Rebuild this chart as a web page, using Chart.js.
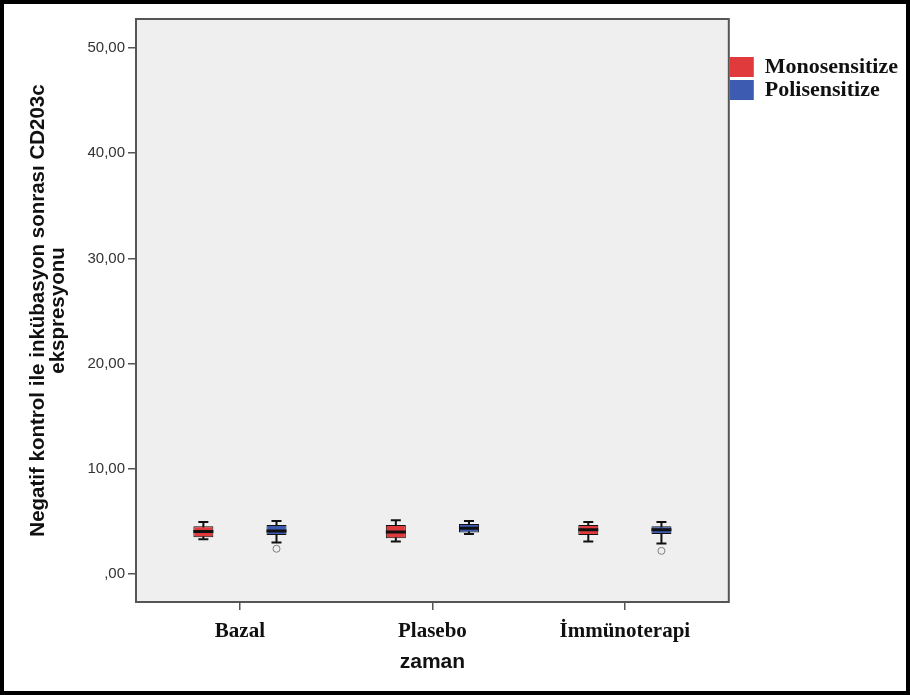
<!DOCTYPE html>
<html>
<head>
<meta charset="utf-8">
<script src="https://cdn.jsdelivr.net/npm/chart.js@4.4.1/dist/chart.umd.min.js"></script>
<style>
  html, body { margin: 0; padding: 0; background: #fff; }
  #wrap { position: relative; width: 910px; height: 695px; }
  canvas { position: absolute; left: 0; top: 0; }
  #edge { position: absolute; left: 0; top: 0; width: 910px; height: 695px; box-sizing: border-box; border: 4px solid #000; pointer-events: none; }
</style>
</head>
<body>
<div id="wrap">
  <canvas id="chart" width="910" height="695"></canvas>
  <div id="edge"></div>
</div>
<script>
// Groups on the x axis and the two patient series
const categories = ['Bazal', 'Plasebo', 'İmmünoterapi'];
const seriesNames = ['Monosensitize', 'Polisensitize'];

// Five-number summaries per group (CD203c expression)
const monoMin    = [3.3, 3.1, 3.1];
const monoQ1     = [3.5, 3.4, 3.7];
const monoMedian = [4.05, 4.0, 4.2];
const monoQ3     = [4.55, 4.65, 4.65];
const monoMax    = [4.95, 5.1, 4.95];
const monoOutliers = [[], [], []];

const poliMin    = [3.0, 3.8, 2.9];
const poliQ1     = [3.7, 3.95, 3.8];
const poliMedian = [4.1, 4.35, 4.2];
const poliQ3     = [4.65, 4.75, 4.55];
const poliMax    = [5.05, 5.05, 4.95];
const poliOutliers = [[2.4], [], [2.2]];

// Axis ticks and titles
const yTickValues = [0, 10, 20, 30, 40, 50];
const yTickLabels = [',00', '10,00', '20,00', '30,00', '40,00', '50,00'];
const xAxisTitle = 'zaman';
const yAxisTitle = ['Negatif kontrol ile inkübasyon sonrası CD203c', 'ekspresyonu'];

const RED = '#e03a3c';
const BLUE = '#3d5bb0';
const INK = '#111111';
const SHIFT = 0.19; // half distance between the two boxes of a group, in category units

function boxSeries(name, color, off, mins, q1, med, q3, maxs, outl, order) {
  const xs = categories.map((_, i) => i + off);
  const caps = [];
  xs.forEach((x, i) => { caps.push({ x, y: mins[i] }); caps.push({ x, y: maxs[i] }); });
  const outs = [];
  xs.forEach((x, i) => outl[i].forEach(v => outs.push({ x, y: v })));
  return [
    { type: 'bar', label: name + '-whisker', data: xs.map((x, i) => ({ x, y: [mins[i], maxs[i]] })),
      backgroundColor: INK, borderWidth: 0, maxBarThickness: 2, grouped: false, order: 50 + order },
    { type: 'bar', label: name, data: xs.map((x, i) => ({ x, y: [q1[i], q3[i]] })),
      backgroundColor: color, borderColor: INK, borderWidth: 1, borderSkipped: false,
      maxBarThickness: 20, grouped: false, order: 40 + order },
    { type: 'scatter', label: name + '-cap', data: caps, pointStyle: 'line', radius: 5,
      borderColor: INK, borderWidth: 2, order: 30 + order },
    { type: 'scatter', label: name + '-median', data: xs.map((x, i) => ({ x, y: med[i] })),
      pointStyle: 'line', radius: 10, borderColor: INK, borderWidth: 3, order: 20 + order },
    { type: 'scatter', label: name + '-outlier', data: outs, pointStyle: 'circle', radius: 3.5,
      borderColor: '#808080', backgroundColor: 'rgba(0,0,0,0)', borderWidth: 1, order: 10 + order }
  ];
}

const datasets = [
  ...boxSeries(seriesNames[0], RED, -SHIFT, monoMin, monoQ1, monoMedian, monoQ3, monoMax, monoOutliers, 1),
  ...boxSeries(seriesNames[1], BLUE, SHIFT, poliMin, poliQ1, poliMedian, poliQ3, poliMax, poliOutliers, 0)
];

// Plot background and frame
const plotFrame = {
  id: 'plotFrame',
  beforeDatasetsDraw(chart) {
    const { ctx, chartArea: a } = chart;
    ctx.save();
    ctx.fillStyle = '#efefef';
    ctx.fillRect(a.left, a.top, a.width, a.height);
    ctx.strokeStyle = '#555';
    ctx.lineWidth = 2;
    ctx.strokeRect(a.left, a.top, a.width, a.height);
    ctx.restore();
  }
};

new Chart(document.getElementById('chart'), {
  type: 'bar',
  data: { datasets },
  plugins: [plotFrame],
  options: {
    responsive: false,
    animation: false,
    events: [],
    layout: { padding: { top: 19, left: 8, right: 2, bottom: 10 } },
    scales: {
      x: {
        type: 'linear',
        min: -0.54,
        max: 2.54,
        offset: false,
        afterBuildTicks: s => { s.ticks = categories.map((_, i) => ({ value: i })); },
        afterFit: s => { s.height = 83; },
        ticks: {
          callback: v => categories[v],
          color: '#111',
          padding: 9,
          font: { family: '"Liberation Serif", "Times New Roman", serif', size: 21, weight: 'bold' }
        },
        grid: { display: true, drawOnChartArea: false, drawTicks: true, tickLength: 8, color: '#555', lineWidth: 1.5, offset: false },
        border: { display: false },
        title: {
          display: true, text: xAxisTitle, color: '#111',
          padding: { top: 0, bottom: 10 },
          font: { family: '"Liberation Sans", Arial, sans-serif', size: 21, weight: 'bold' }
        }
      },
      y: {
        type: 'linear',
        min: -2.66,
        max: 52.76,
        afterBuildTicks: s => { s.ticks = yTickValues.map(v => ({ value: v })); },
        afterFit: s => { s.width = 128; },
        ticks: {
          callback: v => yTickLabels[yTickValues.indexOf(v)],
          color: '#333',
          padding: 3,
          font: { family: '"Liberation Sans", Arial, sans-serif', size: 15 }
        },
        grid: { display: true, drawOnChartArea: false, drawTicks: true, tickLength: 8, color: '#555', lineWidth: 1.5 },
        border: { display: false },
        title: {
          display: true, text: yAxisTitle, color: '#111',
          padding: { top: 20, bottom: 0 },
          font: { family: '"Liberation Sans", Arial, sans-serif', size: 20.5, weight: 'bold', lineHeight: 1.0 }
        }
      }
    },
    plugins: {
      tooltip: { enabled: false },
      legend: {
        position: 'right',
        align: 'start',
        title: { display: true, text: ' ', padding: { top: 24, bottom: 0 }, font: { size: 10 } },
        labels: {
          boxWidth: 24,
          boxHeight: 20,
          padding: 1,
          color: '#111',
          font: { family: '"Liberation Serif", "Times New Roman", serif', size: 22, weight: 'bold' },
          generateLabels: () => seriesNames.map((n, i) => ({
            text: n,
            fillStyle: i === 0 ? RED : BLUE,
            strokeStyle: i === 0 ? RED : BLUE,
            fontColor: '#111',
            lineWidth: 0,
            hidden: false,
            datasetIndex: i * 5 + 1
          }))
        }
      }
    }
  }
});
</script>
</body>
</html>
